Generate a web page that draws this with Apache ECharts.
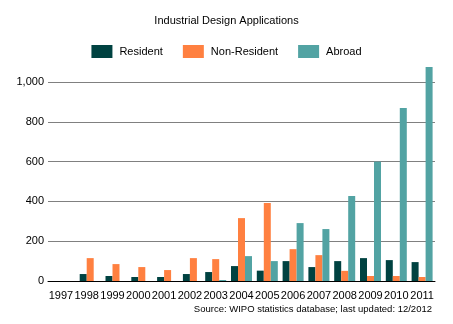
<!DOCTYPE html>
<html>
<head>
<meta charset="utf-8">
<script src="https://cdn.jsdelivr.net/npm/echarts@6/dist/echarts.min.js"></script>
<style>
  html, body { margin: 0; padding: 0; background: #fff; }
  #chart { width: 453px; height: 324px; }
</style>
</head>
<body>
<div id="chart"></div>
<script>
// Industrial design applications by origin, 1997-2011
const years = ['1997','1998','1999','2000','2001','2002','2003','2004','2005','2006','2007','2008','2009','2010','2011'];
const resident    = [null, 35, 25, 20, 20, 35, 45, 75, 52, 100, 70, 100, 115, 105, 95];
const nonResident = [null, 115, 85, 70, 55, 115, 110, 316, 392, 160, 130, 51, 25, 25, 20];
const abroad      = [null, null, null, null, null, null, 5, 125, 100, 291, 261, 427, 600, 869, 1075];

const COLORS = { resident: '#004241', nonResident: '#FF8040', abroad: '#52A3A3' };
const FONT = '"Liberation Sans", Arial, sans-serif';

// Years without an "Abroad" value get a two-bar layout on a second (hidden) category axis
const hasAbroad = abroad.map(v => v !== null);
const pick = (arr, keep) => arr.map((v, i) => (keep(i) ? v : null));
const lateRes = pick(resident, i => hasAbroad[i]);
const lateNon = pick(nonResident, i => hasAbroad[i]);
const earlyRes = pick(resident, i => !hasAbroad[i]);
const earlyNon = pick(nonResident, i => !hasAbroad[i]);

const chart = echarts.init(document.getElementById('chart'), null, { renderer: 'canvas' });

const barBase = { type: 'bar', barWidth: 7, barGap: '0%', clip: false };

chart.setOption({
  animation: false,
  title: {
    text: 'Industrial Design Applications',
    left: 'center',
    top: 10,
    textStyle: { fontFamily: FONT, fontSize: 11, fontWeight: 'normal', color: '#000' }
  },
  legend: {
    top: 40,
    left: 'center',
    itemWidth: 21,
    itemHeight: 13,
    itemGap: 20,
    icon: 'rect',
    data: ['Resident', 'Non-Resident', 'Abroad'],
    textStyle: { fontFamily: FONT, fontSize: 11, color: '#000', padding: [0, 0, 0, 2] }
  },
  graphic: [{
    type: 'text',
    right: 21,
    top: 304,
    style: {
      text: 'Source: WIPO statistics database; last updated: 12/2012',
      font: '9.5px ' + FONT,
      fill: '#000'
    }
  }],
  grid: { left: 48, right: 18, top: 82, bottom: 43 },
  xAxis: [
    {
      type: 'category',
      data: years,
      axisLine: { lineStyle: { color: '#000', width: 1 } },
      axisTick: { show: false },
      axisLabel: { fontFamily: FONT, fontSize: 11, color: '#000', interval: 0, margin: 9 }
    },
    {
      type: 'category',
      data: years,
      show: false
    }
  ],
  yAxis: {
    type: 'value',
    min: 0,
    max: 1000,
    interval: 200,
    axisLine: { show: false },
    axisTick: { show: false },
    splitLine: { lineStyle: { color: '#808080', width: 1 } },
    axisLabel: {
      fontFamily: FONT, fontSize: 11, color: '#000', margin: 4,
      formatter: v => v.toLocaleString('en-US')
    }
  },
  series: [
    { ...barBase, name: 'Resident', xAxisIndex: 0, data: lateRes, itemStyle: { color: COLORS.resident } },
    { ...barBase, name: 'Non-Resident', xAxisIndex: 0, data: lateNon, itemStyle: { color: COLORS.nonResident } },
    { ...barBase, name: 'Abroad', xAxisIndex: 0, data: abroad, itemStyle: { color: COLORS.abroad } },
    { ...barBase, name: 'Resident', xAxisIndex: 1, data: earlyRes, itemStyle: { color: COLORS.resident } },
    { ...barBase, name: 'Non-Resident', xAxisIndex: 1, data: earlyNon, itemStyle: { color: COLORS.nonResident } }
  ]
});
</script>
</body>
</html>
